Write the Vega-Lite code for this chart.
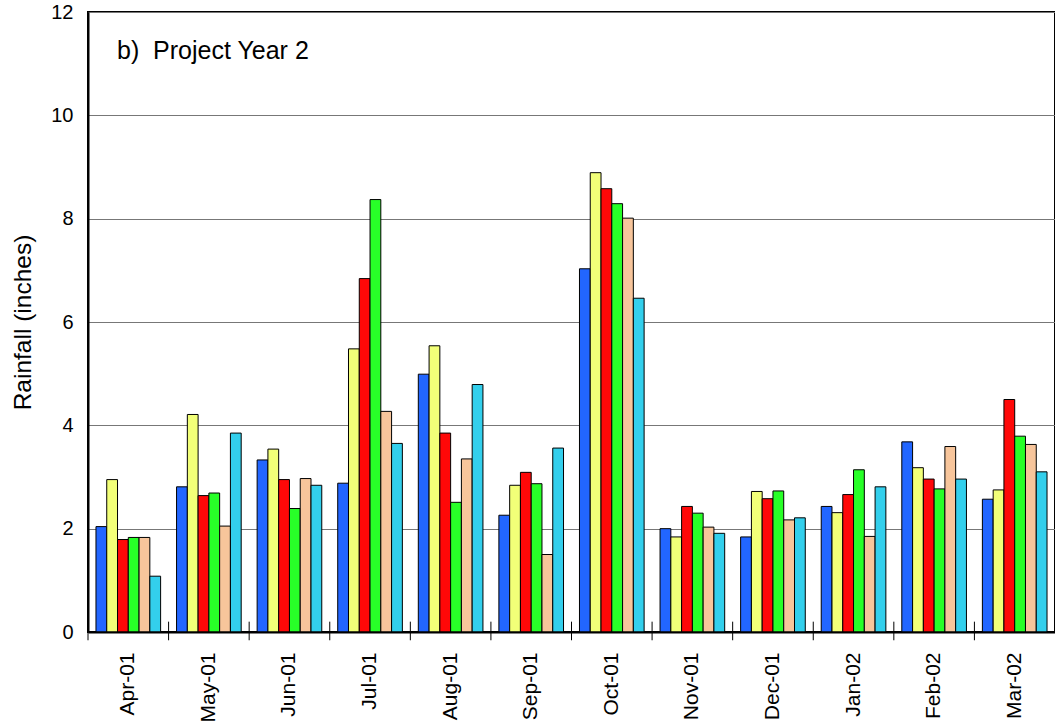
{
  "$schema": "https://vega.github.io/schema/vega-lite/v6.json",
  "width": 967,
  "height": 620,
  "autosize": {"type": "none"},
  "padding": {"left": 88, "top": 12, "right": 0, "bottom": 92},
  "background": "white",
  "config": {"view": {"stroke": "black", "strokeWidth": 2}, "font": "Liberation Sans"},
  "datasets": {
    "rain": [
      {"month": "Apr-01", "site": "Site 1", "rain": 2.04}, {"month": "Apr-01", "site": "Site 2", "rain": 2.95}, {"month": "Apr-01", "site": "Site 3", "rain": 1.79}, {"month": "Apr-01", "site": "Site 4", "rain": 1.83}, {"month": "Apr-01", "site": "Site 5", "rain": 1.83}, {"month": "Apr-01", "site": "Site 6", "rain": 1.08},
      {"month": "May-01", "site": "Site 1", "rain": 2.81}, {"month": "May-01", "site": "Site 2", "rain": 4.21}, {"month": "May-01", "site": "Site 3", "rain": 2.64}, {"month": "May-01", "site": "Site 4", "rain": 2.69}, {"month": "May-01", "site": "Site 5", "rain": 2.05}, {"month": "May-01", "site": "Site 6", "rain": 3.85},
      {"month": "Jun-01", "site": "Site 1", "rain": 3.33}, {"month": "Jun-01", "site": "Site 2", "rain": 3.54}, {"month": "Jun-01", "site": "Site 3", "rain": 2.95}, {"month": "Jun-01", "site": "Site 4", "rain": 2.39}, {"month": "Jun-01", "site": "Site 5", "rain": 2.97}, {"month": "Jun-01", "site": "Site 6", "rain": 2.84},
      {"month": "Jul-01", "site": "Site 1", "rain": 2.88}, {"month": "Jul-01", "site": "Site 2", "rain": 5.48}, {"month": "Jul-01", "site": "Site 3", "rain": 6.84}, {"month": "Jul-01", "site": "Site 4", "rain": 8.37}, {"month": "Jul-01", "site": "Site 5", "rain": 4.27}, {"month": "Jul-01", "site": "Site 6", "rain": 3.65},
      {"month": "Aug-01", "site": "Site 1", "rain": 4.99}, {"month": "Aug-01", "site": "Site 2", "rain": 5.54}, {"month": "Aug-01", "site": "Site 3", "rain": 3.85}, {"month": "Aug-01", "site": "Site 4", "rain": 2.51}, {"month": "Aug-01", "site": "Site 5", "rain": 3.35}, {"month": "Aug-01", "site": "Site 6", "rain": 4.79},
      {"month": "Sep-01", "site": "Site 1", "rain": 2.26}, {"month": "Sep-01", "site": "Site 2", "rain": 2.84}, {"month": "Sep-01", "site": "Site 3", "rain": 3.09}, {"month": "Sep-01", "site": "Site 4", "rain": 2.87}, {"month": "Sep-01", "site": "Site 5", "rain": 1.50}, {"month": "Sep-01", "site": "Site 6", "rain": 3.56},
      {"month": "Oct-01", "site": "Site 1", "rain": 7.03}, {"month": "Oct-01", "site": "Site 2", "rain": 8.89}, {"month": "Oct-01", "site": "Site 3", "rain": 8.58}, {"month": "Oct-01", "site": "Site 4", "rain": 8.29}, {"month": "Oct-01", "site": "Site 5", "rain": 8.01}, {"month": "Oct-01", "site": "Site 6", "rain": 6.46},
      {"month": "Nov-01", "site": "Site 1", "rain": 2.00}, {"month": "Nov-01", "site": "Site 2", "rain": 1.84}, {"month": "Nov-01", "site": "Site 3", "rain": 2.43}, {"month": "Nov-01", "site": "Site 4", "rain": 2.30}, {"month": "Nov-01", "site": "Site 5", "rain": 2.03}, {"month": "Nov-01", "site": "Site 6", "rain": 1.91},
      {"month": "Dec-01", "site": "Site 1", "rain": 1.84}, {"month": "Dec-01", "site": "Site 2", "rain": 2.72}, {"month": "Dec-01", "site": "Site 3", "rain": 2.58}, {"month": "Dec-01", "site": "Site 4", "rain": 2.73}, {"month": "Dec-01", "site": "Site 5", "rain": 2.17}, {"month": "Dec-01", "site": "Site 6", "rain": 2.21},
      {"month": "Jan-02", "site": "Site 1", "rain": 2.43}, {"month": "Jan-02", "site": "Site 2", "rain": 2.31}, {"month": "Jan-02", "site": "Site 3", "rain": 2.66}, {"month": "Jan-02", "site": "Site 4", "rain": 3.14}, {"month": "Jan-02", "site": "Site 5", "rain": 1.85}, {"month": "Jan-02", "site": "Site 6", "rain": 2.81},
      {"month": "Feb-02", "site": "Site 1", "rain": 3.68}, {"month": "Feb-02", "site": "Site 2", "rain": 3.18}, {"month": "Feb-02", "site": "Site 3", "rain": 2.96}, {"month": "Feb-02", "site": "Site 4", "rain": 2.77}, {"month": "Feb-02", "site": "Site 5", "rain": 3.59}, {"month": "Feb-02", "site": "Site 6", "rain": 2.96},
      {"month": "Mar-02", "site": "Site 1", "rain": 2.57}, {"month": "Mar-02", "site": "Site 2", "rain": 2.75}, {"month": "Mar-02", "site": "Site 3", "rain": 4.50}, {"month": "Mar-02", "site": "Site 4", "rain": 3.79}, {"month": "Mar-02", "site": "Site 5", "rain": 3.63}, {"month": "Mar-02", "site": "Site 6", "rain": 3.10}
    ],
    "months": [
      {"month": "Apr-01"}, {"month": "May-01"}, {"month": "Jun-01"}, {"month": "Jul-01"}, {"month": "Aug-01"}, {"month": "Sep-01"},
      {"month": "Oct-01"}, {"month": "Nov-01"}, {"month": "Dec-01"}, {"month": "Jan-02"}, {"month": "Feb-02"}, {"month": "Mar-02"}
    ],
    "label": [
      {"month": "Apr-01", "level": 11.1, "text": "b)\u00a0 Project Year 2"}
    ]
  },
  "layer": [
    {
      "data": {"name": "rain"},
      "mark": {"type": "bar", "stroke": "black", "strokeWidth": 1},
      "encoding": {
        "x": {
          "field": "month", "type": "nominal",
          "scale": {"domain": ["Apr-01", "May-01", "Jun-01", "Jul-01", "Aug-01", "Sep-01", "Oct-01", "Nov-01", "Dec-01", "Jan-02", "Feb-02", "Mar-02"], "paddingInner": 0, "paddingOuter": 0},
          "axis": {"title": null, "labelAngle": -90, "labelFontSize": 21, "labelColor": "black", "labelFont": "Liberation Sans", "ticks": false, "tickSize": 0, "labelPadding": 20, "domainColor": "black", "domainWidth": 2, "zindex": 1, "grid": false}
        },
        "xOffset": {"field": "site", "type": "nominal", "scale": {"paddingInner": 0, "paddingOuter": 0.74}},
        "y": {
          "field": "rain", "type": "quantitative",
          "scale": {"domain": [0, 12], "nice": false},
          "axis": {"title": "Rainfall (inches)", "titleFontSize": 24.5, "titleFontWeight": "normal", "titleColor": "black", "titleFont": "Liberation Sans", "titlePadding": 15, "labelFontSize": 20, "labelColor": "black", "labelFont": "Liberation Sans", "labelPadding": 15, "ticks": false, "tickSize": 0, "values": [0, 2, 4, 6, 8, 10, 12], "grid": true, "gridColor": "#777777", "gridWidth": 1, "domainColor": "black", "domainWidth": 2}
        },
        "color": {
          "field": "site", "type": "nominal",
          "scale": {"domain": ["Site 1", "Site 2", "Site 3", "Site 4", "Site 5", "Site 6"], "range": ["#2266ff", "#f2ff78", "#ff0808", "#28ff28", "#f7c59b", "#33cfec"]},
          "legend": null
        }
      }
    },
    {
      "data": {"name": "months"},
      "mark": {"type": "rule", "color": "black", "strokeWidth": 1},
      "encoding": {
        "x": {"field": "month", "type": "nominal", "bandPosition": 0},
        "y": {"datum": -0.16, "type": "quantitative"},
        "y2": {"datum": 0.2}
      }
    },
    {
      "data": {"name": "label"},
      "mark": {"type": "text", "align": "left", "baseline": "alphabetic", "dx": 29, "fontSize": 25, "font": "Liberation Sans", "color": "black"},
      "encoding": {
        "x": {"field": "month", "type": "nominal", "bandPosition": 0},
        "y": {"field": "level", "type": "quantitative"},
        "text": {"field": "text"}
      }
    }
  ]
}
